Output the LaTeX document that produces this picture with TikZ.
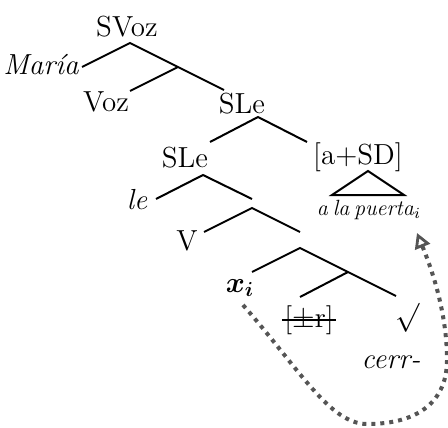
\documentclass[tikz,border=0pt]{standalone}
\usepackage{fix-cm}
\usepackage{fontspec}
\usepackage{bm}
\usetikzlibrary{arrows.meta}
\definecolor{movegray}{RGB}{85,85,85}
\newcommand\tightwords{\spaceskip=0.22em\relax}
\begin{document}
\begin{tikzpicture}[x=0.5pt,y=0.5pt,
  lbl/.style={inner sep=0pt, font=\fontsize{14.5}{17}\selectfont},
  ilbl/.style={inner sep=0pt, font=\fontsize{14.5}{17}\selectfont\itshape},
  smalllbl/.style={inner sep=0pt, font=\fontsize{11}{13}\selectfont\itshape},
  branch/.style={line width=1pt},
  strike/.style={line width=0.8pt},
  movement/.style={draw=movegray, line width=2pt, dash pattern=on 2pt off 2.5pt,
    -{Triangle[open,length=7.5pt,width=8pt,line width=1.4pt]}}]
\useasboundingbox (0,0) rectangle (448,-427);

% labels
\node[lbl]  (svoz)   at (127,-27)  {SVoz};
\node[ilbl] (maria)  at (41,-65)   {María};
\node[lbl]  (voz)    at (106,-102) {Voz};
\node[lbl]  (sleA)   at (242,-104) {SLe};
\node[lbl]  (sleB)   at (185,-158) {SLe};
\node[lbl]  (asd)    at (358,-157) {[a+SD]};
\node[smalllbl] (puerta) at (369,-210) {\tightwords a la puerta$_{i}$};
\node[ilbl] (le)     at (137,-200) {le};
\node[lbl]  (v)      at (187,-241) {V};
\node[lbl]  (xi)     at (240,-288) {$\bm{x}_{\bm{i}}$};
\node[lbl, inner sep=1pt] (pmr) at (309,-320) {[$\pm$r]};
\node[lbl]  (root)   at (408,-318) {$\surd$};
\node[ilbl] (cerr)   at (391,-362) {cerr-};

% branching points and branch ends
\coordinate (n1)  at (130,-43);
\coordinate (n1l) at (82,-67);
\coordinate (n1r) at (224,-90);
\coordinate (n2)  at (178,-67);
\coordinate (n2l) at (130,-91);
\coordinate (n3)  at (258,-117);
\coordinate (n3l) at (210,-142);
\coordinate (n3r) at (307,-142);
\coordinate (n4)  at (203,-175);
\coordinate (n4l) at (156,-199);
\coordinate (n4r) at (252,-199);
\coordinate (n5)  at (252,-208);
\coordinate (n5l) at (204,-232);
\coordinate (n5r) at (300,-232);
\coordinate (n6)  at (300,-248);
\coordinate (n6l) at (252,-272);
\coordinate (n6r) at (396,-296);
\coordinate (n7)  at (348,-272);
\coordinate (n7l) at (300,-297);
\coordinate (tri)  at (368,-171);
\coordinate (triL) at (332,-195);
\coordinate (triR) at (404,-195);

% tree
\draw[branch] (n1l) -- (n1) -- (n1r);
\draw[branch] (n2) -- (n2l);
\draw[branch] (n3l) -- (n3) -- (n3r);
\draw[branch] (n4l) -- (n4) -- (n4r);
\draw[branch] (n5l) -- (n5) -- (n5r);
\draw[branch] (n6l) -- (n6) -- (n6r);
\draw[branch] (n7) -- (n7l);
\draw[branch] (tri) -- (triL) -- (triR) -- cycle;

% struck-out feature
\draw[strike] (pmr.west) -- (pmr.east);

% movement arrow
\coordinate (mvStart)  at (243,-305);
\coordinate (mvBottom) at (367,-424);
\coordinate (mvRight)  at (447,-360);
\coordinate (mvEnd)    at (417,-233);
\draw[movement] (mvStart) .. controls (300,-370) and (330,-424) .. (mvBottom)
  .. controls (420,-424) and (447,-400) .. (mvRight)
  .. controls (447,-310) and (430,-265) .. (mvEnd);
\end{tikzpicture}
\end{document}
